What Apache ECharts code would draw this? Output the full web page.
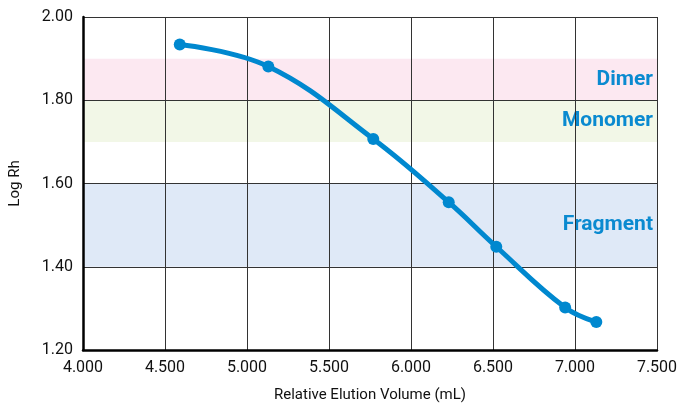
<!DOCTYPE html>
<html>
<head>
<meta charset="utf-8">
<script src="https://cdn.jsdelivr.net/npm/echarts@6/dist/echarts.min.js"></script>
<style>html,body{margin:0;padding:0;background:#fff;}#c{width:683px;height:408px;}</style>
</head>
<body>
<div id="c"></div>
<script>
const elutionVolume = [4.59, 5.13, 5.77, 6.23, 6.52, 6.94, 7.13];
const logRh = [1.934, 1.881, 1.707, 1.555, 1.448, 1.302, 1.267];
const bandNames = ['Dimer', 'Monomer', 'Fragment'];
const bandLow = [1.80, 1.70, 1.40];
const bandHigh = [1.90, 1.80, 1.60];
const bandColors = ['#fce8f1', '#f2f7e7', '#dfe9f7'];
const xMin = 4.0, xMax = 7.5, xStep = 0.5;
const yMin = 1.2, yMax = 2.0, yStep = 0.2;

const font = "'Roboto', sans-serif";
const chart = echarts.init(document.getElementById('c'));
chart.setOption({
  animation: false,
  grid: { left: 83, right: 26, top: 17, bottom: 56 },
  xAxis: {
    type: 'value', min: xMin, max: xMax, interval: xStep, z: 3,
    name: 'Relative Elution Volume (mL)', nameLocation: 'middle', nameGap: 38,
    nameTextStyle: { fontFamily: font, fontSize: 15, color: '#111' },
    axisLine: { show: true, onZero: false, lineStyle: { color: '#000', width: 2.5 } },
    axisTick: { show: false },
    axisLabel: { fontFamily: font, fontSize: 16, color: '#111', margin: 10, formatter: v => v.toFixed(3) },
    splitLine: { show: true, lineStyle: { color: '#333', width: 1 } }
  },
  yAxis: {
    type: 'value', min: yMin, max: yMax, interval: yStep, z: 3,
    name: 'Log Rh', nameLocation: 'middle', nameGap: 60,
    nameTextStyle: { fontFamily: font, fontSize: 15, color: '#111' },
    axisLine: { show: true, onZero: false, lineStyle: { color: '#000', width: 2.5 } },
    axisTick: { show: false },
    axisLabel: { fontFamily: font, fontSize: 16, color: '#111', margin: 10, formatter: v => v.toFixed(2) },
    splitLine: { show: true, lineStyle: { color: '#333', width: 1 } }
  },
  series: [{
    type: 'line',
    data: [],
    z: 1,
    markArea: {
      silent: true,
      data: bandNames.map((n, i) => [
        { name: n, xAxis: xMin, yAxis: bandLow[i], itemStyle: { color: bandColors[i] } },
        { xAxis: xMax, yAxis: bandHigh[i] }
      ]),
      label: {
        show: true, position: 'insideRight', distance: 4,
        color: '#0a8ad0', fontFamily: "'Roboto', Arial, sans-serif", fontWeight: 'bold', fontSize: 21
      }
    }
  }, {
    type: 'line',
    data: elutionVolume.map((x, i) => [x, logRh[i]]),
    smooth: 0.4,
    symbol: 'circle', symbolSize: 12,
    lineStyle: { color: '#0088cf', width: 5 },
    itemStyle: { color: '#0088cf' },
    z: 5
  }]
});
</script>
</body>
</html>
